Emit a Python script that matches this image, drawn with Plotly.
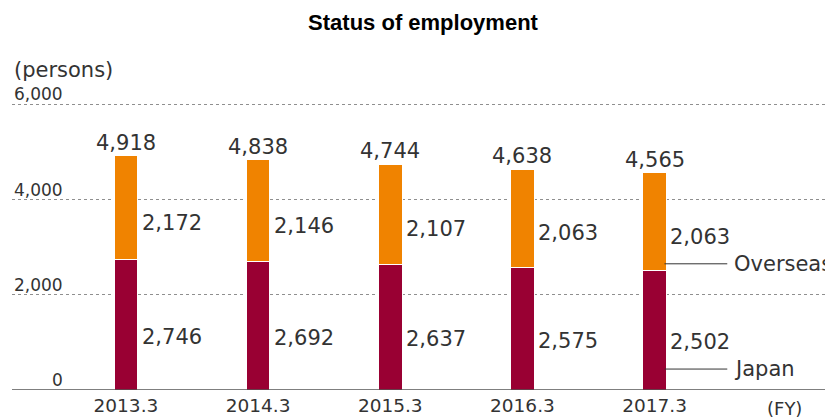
import plotly.graph_objects as go

fiscal_years = ["2013.3", "2014.3", "2015.3", "2016.3", "2017.3"]
japan = [2746, 2692, 2637, 2575, 2502]
overseas = [2172, 2146, 2107, 2063, 2063]
totals = [4918, 4838, 4744, 4638, 4565]
y_ticks = [0, 2000, 4000, 6000]
y_tick_labels = ["0", "2,000", "4,000", "6,000"]

JP_COLOR = "#990033"
OS_COLOR = "#F08300"
TXT = "#333333"
FONT = "DejaVu Sans"

# page has an 8px body margin, so the figure is drawn 8px right/down
W, H = 825, 410
ML, MR, MT, MB = 4, 0, 92, 28

xs = list(range(len(fiscal_years)))
BAR_W = 0.178

fig = go.Figure()
fig.add_trace(go.Bar(x=xs, y=japan, width=BAR_W, marker=dict(color=JP_COLOR, line=dict(color="white", width=1)), name="Japan"))
fig.add_trace(go.Bar(x=xs, y=overseas, width=BAR_W, marker=dict(color=OS_COLOR, line=dict(color="white", width=1)), name="Overseas"))

ann = []
for i, (j, o, t) in enumerate(zip(japan, overseas, totals)):
    ann.append(dict(x=i, y=t, text=f"{t:,}", showarrow=False, xanchor="center", yanchor="bottom", yshift=-1,
                    font=dict(size=21, color=TXT, family=FONT)))
    ann.append(dict(x=i + BAR_W / 2, y=j + o / 2, text=f"{o:,}", showarrow=False, xanchor="left", yanchor="middle",
                    xshift=2, yshift=-15, font=dict(size=21, color=TXT, family=FONT)))
    ann.append(dict(x=i + BAR_W / 2, y=j / 2, text=f"{j:,}", showarrow=False, xanchor="left", yanchor="middle",
                    xshift=2, yshift=-12, font=dict(size=21, color=TXT, family=FONT)))

# y tick labels above gridlines
for v, lab in zip(y_ticks, y_tick_labels):
    ann.append(dict(x=(57 - ML) / (W - ML - MR), xref="paper", y=v, yref="y", text=lab, showarrow=False,
                    xanchor="right", yanchor="bottom", yshift=-2, font=dict(size=17, color=TXT, family=FONT)))

last = len(xs) - 1
shapes = []
for yv, lab in [(japan[last] + 150, "Overseas"), (440, "Japan")]:
    shapes.append(dict(type="line", xref="x", yref="y", x0=last + 0.075, x1=last + 0.55, y0=yv, y1=yv,
                       line=dict(color="#333333", width=1)))
    ann.append(dict(x=last + 0.55, y=yv, text=lab, showarrow=False, xanchor="left", yanchor="middle", xshift=5,
                    font=dict(size=21, color=TXT, family=FONT)))

ann.append(dict(x=4.985, y=0, text="(FY)", showarrow=False, xanchor="center", yanchor="top", yshift=-6,
                font=dict(size=18, color=TXT, family=FONT)))
ann.append(dict(x=0, xref="paper", y=6000, yref="y", text="(persons)", showarrow=False, xanchor="left",
                yanchor="bottom", yshift=20, font=dict(size=21, color=TXT, family=FONT)))

fig.update_layout(
    width=W, height=H,
    margin=dict(l=ML, r=MR, t=MT, b=MB, autoexpand=False),
    barmode="stack",
    showlegend=False,
    plot_bgcolor="white", paper_bgcolor="white",
    title=dict(text="<b>Status of employment</b>", x=415 / W, xanchor="center", xref="container",
               y=1 - 7 / H, yanchor="top", yref="container", pad=dict(t=0, b=0, l=0, r=0),
               font=dict(size=22, color="#000000", family="Liberation Sans")),
    xaxis=dict(range=[-0.862, 5.35], tickmode="array", tickvals=xs, ticktext=fiscal_years, automargin=False,
               showgrid=False, zeroline=False, showline=False, ticks="", ticklabelstandoff=2,
               tickfont=dict(size=18.5, color=TXT, family=FONT)),
    yaxis=dict(range=[0, 6094], tickmode="array", tickvals=y_ticks[1:], showticklabels=False, automargin=False,
               showgrid=True, gridcolor="#8f8f8f", griddash="dot", gridwidth=1, zeroline=False, showline=False),
    annotations=ann,
    shapes=shapes + [dict(type="line", xref="paper", yref="y", x0=0, x1=1, y0=0, y1=0,
                          line=dict(color="#555555", width=1.5))],
)
fig.write_html("out.html")
